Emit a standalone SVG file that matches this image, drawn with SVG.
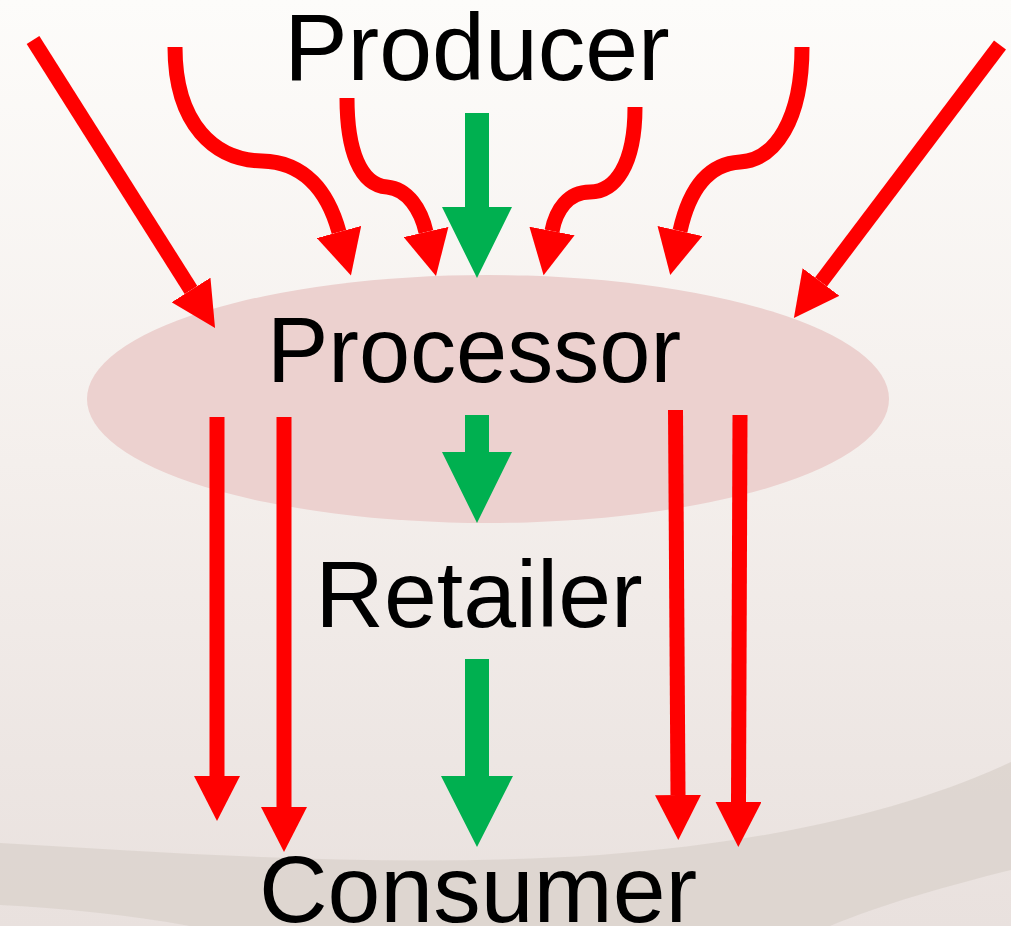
<svg xmlns="http://www.w3.org/2000/svg" width="1011" height="926" viewBox="0 0 1011 926">
  <defs>
    <linearGradient id="bg" x1="0" y1="0" x2="0" y2="1">
      <stop offset="0" stop-color="#fdfcfa"/>
      <stop offset="0.5" stop-color="#f4efec"/>
      <stop offset="1" stop-color="#e9e1de"/>
    </linearGradient>
    <marker id="rh" markerUnits="userSpaceOnUse" markerWidth="46" markerHeight="46" refX="0" refY="23" orient="auto" viewBox="0 0 46 46">
      <path d="M0,0 L45,23 L0,46 Z" fill="#ff0000"/>
    </marker>
    <style>
      .lbl { font-family: "Liberation Sans", Arial, sans-serif; font-size: 95px; fill: #000; text-anchor: middle; }
      .red { fill: none; stroke: #ff0000; stroke-width: 15; marker-end: url(#rh); }
      .green { fill: #00b050; }
    </style>
  </defs>

  <g id="background">
    <rect x="0" y="0" width="1011" height="926" fill="url(#bg)"/>
    <path d="M0,843 C200,855 400,868 600,855 C800,840 930,800 1011,762 L1011,870 C950,885 880,905 830,926 L190,926 C130,915 60,908 0,905 Z" fill="#dcd3ce" opacity="0.85"/>
  </g>

  <g id="processor">
    <ellipse cx="488" cy="399" rx="401" ry="124" fill="#ecd1cf"/>
    <text class="lbl" x="474" y="382" style="font-size:92px">Processor</text>
  </g>
  <g id="producer">
    <text class="lbl" x="477" y="80">Producer</text>
  </g>
  <g id="retailer">
    <text class="lbl" x="479" y="627">Retailer</text>
  </g>
  <g id="consumer">
    <text class="lbl" x="478" y="922">Consumer</text>
  </g>

  <g id="connectors">
    <!-- incoming red arrows -->
    <path class="red" d="M33,40 L191,290"/>
    <path class="red" d="M175,47 C175,125 215,160 262,161 C305,162 328,192 339,232"/>
    <path class="red" d="M347,98 C347,150 360,185 387,187 C408,189 421,210 426,232"/>
    <path class="red" d="M635,107 C635,165 615,192 590,192 C568,192 556,210 552,231"/>
    <path class="red" d="M802,47 C802,120 775,160 740,162 C705,164 688,195 680,231"/>
    <path class="red" d="M1000,45 L821,282"/>
    <!-- bypass red arrows -->
    <path class="red" d="M217,417 L217,776"/>
    <path class="red" d="M284,417 L284,807"/>
    <path class="red" d="M675.5,410 L678,795"/>
    <path class="red" d="M740,415 L738.5,802"/>
    <!-- green chain -->
    <polygon class="green" points="465,113 489,113 489,207 512,207 477,278 442,207 465,207"/>
    <polygon class="green" points="465,415 489,415 489,452 512,452 477,523 442,452 465,452"/>
    <polygon class="green" points="465,659 489,659 489,776 513,776 477,847 441,776 465,776"/>
  </g>
</svg>
